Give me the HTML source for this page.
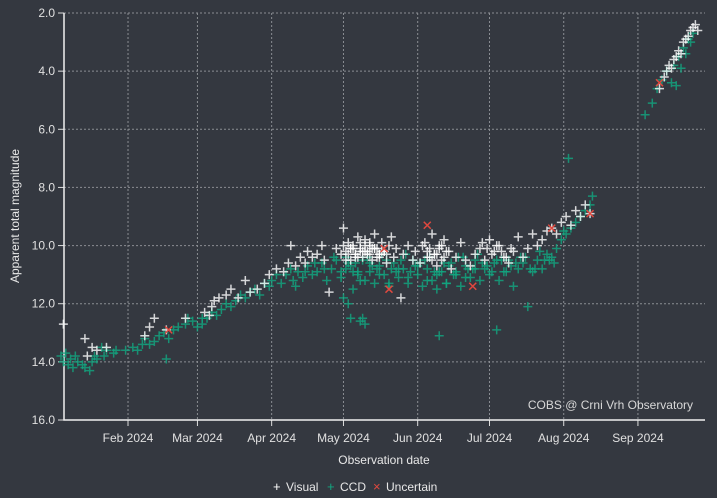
<!DOCTYPE html>
<html><head><meta charset="utf-8"><style>
html,body{margin:0;padding:0;background:#343840;}
svg{display:block;font-family:"Liberation Sans",sans-serif;}
</style></head><body>
<svg id="chart" width="717" height="498">
<rect width="717" height="498" fill="#343840"/>
<g id="grid"></g><g id="axes"></g><g id="marks"></g>
<text x="693" y="409" fill="#d8d8d8" font-size="12" text-anchor="end">COBS @ Crni Vrh Observatory</text>
<text x="384" y="464" fill="#e8e8e8" font-size="12" text-anchor="middle">Observation date</text>
<text transform="translate(19,216) rotate(-90)" fill="#e8e8e8" font-size="12" text-anchor="middle">Apparent total magnitude</text>
<g id="legend"></g>
</svg>
<script>
const yTicks=[2,4,6,8,10,12,14,16];
const xTickDays=[31,60,91,121,152,182,213,244];
const xTickLabels=["Feb 2024","Mar 2024","Apr 2024","May 2024","Jun 2024","Jul 2024","Aug 2024","Sep 2024"];
const ccdDays=[3,4,5,6,7,8,9,10,12,13,15,16,17,18,20,21,22,25,26,30,33,35,37,38,40,42,44,46,47,48,50,52,55,56,58,60,62,62,64,66,68,70,72,74,76,78,80,82,84,86,88,90,91,93,95,97,99,100,102,104,106,108,110,112,114,116,118,120,121,122,123,124,125,126,127,128,129,130,130,132,134,136,138,140,142,144,146,148,150,152,154,156,158,160,161,162,164,166,168,170,172,174,176,178,180,182,184,185,186,188,190,192,194,196,198,200,202,204,206,208,210,212,213,214,215,216,218,220,222,224,225,247,250,252,254,256,258,259,260,261,262,263,264,265,266,267,101,105,109,113,117,123,127,131,135,139,143,147,151,155,159,163,167,171,175,179,183,187,191,195,199,203,207,122,125,129,133,137,141,145,149,153,157,161,165,169,173,177,181,185,189,193,197,201,205,209,120,124,128,132,136,140,144,148,152,156,160,164,168,172,176,180];
const ccdMags=[13.8,14.0,13.7,14.1,13.9,14.2,13.8,14.0,14.1,14.2,14.3,14.0,13.8,13.9,13.5,13.8,13.6,13.7,13.6,13.6,13.5,13.6,13.4,13.2,13.4,13.3,13.1,13.0,13.9,13.2,12.9,12.8,12.7,12.5,12.6,12.8,12.5,12.7,12.5,12.3,12.4,12.2,12.0,12.1,11.9,11.7,11.8,11.6,11.5,11.7,11.3,11.4,11.2,11.0,11.3,11.0,10.8,11.2,10.9,11.1,10.7,11.0,10.9,10.6,11.2,10.8,10.5,10.9,11.8,10.8,12.0,12.5,11.5,10.6,11.0,12.6,12.5,12.7,11.2,10.9,11.3,10.7,11.0,11.4,10.6,11.1,10.8,11.3,10.5,11.0,11.4,10.8,11.2,11.5,13.1,10.9,11.3,10.6,11.0,11.4,10.7,11.1,10.5,11.2,10.8,11.0,10.6,12.9,11.2,10.9,10.5,11.4,10.8,10.6,12.1,10.9,10.5,10.8,10.3,10.4,10.1,9.8,9.5,9.6,7.0,9.4,9.2,9.0,8.8,8.6,8.3,5.5,5.1,4.6,4.3,4.0,4.4,3.8,4.5,3.5,3.9,3.2,3.4,2.9,3.0,2.7,11.4,10.9,10.6,10.8,10.4,10.6,10.9,10.4,10.8,10.5,10.9,10.3,10.7,10.5,10.9,10.6,11.0,10.4,10.8,10.6,10.9,10.5,10.7,10.4,10.8,10.2,10.5,10.4,10.9,10.5,10.7,10.3,10.8,10.5,10.9,10.6,10.4,10.9,10.7,10.4,10.8,10.3,10.7,10.5,10.9,10.6,10.4,10.8,10.5,10.6,11.1,10.7,11.2,10.6,11.0,11.3,10.8,11.1,10.7,11.2,11.0,11.3,10.9,11.1,10.8];
const visDays=[4,13,16,22,14,18,38,40,42,47,55,63,65,66,67,69,72,74,77,80,82,85,88,90,93,96,98,99,101,103,105,106,108,110,112,113,115,118,120,121,122,123,124,125,126,127,128,129,130,131,132,133,134,135,136,137,138,139,140,141,142,143,145,146,148,150,151,153,155,156,157,158,159,160,161,162,163,164,166,168,170,172,174,176,178,180,182,184,186,188,190,192,194,196,198,200,202,204,206,208,210,212,214,216,218,220,222,224,253,255,256,257,258,259,260,261,262,263,264,265,266,267,268,269,124,126,128,130,132,134,136,138,156,158,160,162,121,123,125,127,129,131,133,135,137,139,122,124,126,128,130,132,134,136,154,157,159,161,163,165,179,181,183,185,187,189,191];
const visMags=[12.7,13.2,13.5,13.5,13.8,13.6,13.1,12.8,12.5,12.9,12.5,12.3,12.4,12.1,11.9,11.8,11.7,11.5,11.8,11.2,11.6,11.5,11.3,11.0,10.8,10.9,10.6,10.0,10.7,10.4,10.6,10.2,10.4,10.3,10.0,10.5,11.6,10.1,10.3,9.4,10.2,9.9,10.5,10.0,10.3,9.7,10.1,10.4,9.8,10.2,10.0,10.5,9.6,10.1,10.3,9.9,10.2,10.6,10.0,9.7,10.4,10.1,11.8,10.3,10.0,10.5,10.2,10.6,9.9,10.4,10.1,9.6,10.3,10.7,10.0,10.5,9.8,10.2,10.8,10.4,9.9,10.5,10.7,10.3,10.1,10.5,9.8,10.2,10.0,10.4,10.6,10.2,9.7,10.4,10.1,9.6,10.0,9.8,9.5,9.4,9.6,9.2,9.0,9.3,8.8,9.0,8.6,8.9,4.6,4.2,4.0,3.8,3.9,3.6,3.5,3.3,3.4,3.0,2.9,2.8,2.6,2.5,2.4,2.6,10.1,10.4,10.2,10.0,10.3,10.1,10.4,10.2,10.2,10.5,10.3,10.0,10.0,10.3,10.1,10.4,10.2,10.3,10.1,10.4,10.2,10.3,10.5,10.1,10.3,9.9,10.2,9.9,10.1,10.3,10.0,10.4,10.3,10.1,10.4,10.2,9.9,10.1,10.3,10.0,10.2,10.4,10.1];
const uncDays=[48,156,175,208,224,253,140,138];
const uncMags=[12.9,9.3,11.4,9.4,8.9,4.4,11.5,10.1];

const L=64,R=705,T=13,B=420;
const xS=d=>53.8+d*2.394;
const yS=m=>T+(m-2)/14*(B-T);
const NS="http://www.w3.org/2000/svg";
function mk(p,tag,at){const e=document.createElementNS(NS,tag);for(const k in at)e.setAttribute(k,at[k]);p.appendChild(e);return e;}
const grid=document.getElementById('grid'),axes=document.getElementById('axes'),marks=document.getElementById('marks'),legend=document.getElementById('legend');
yTicks.forEach(v=>{const y=yS(v);
 const g=mk(grid,'line',{x1:L,x2:R,y1:y,y2:y,stroke:'#8a8d92','stroke-dasharray':'2,2','stroke-width':1});
 
 
 mk(axes,'line',{x1:L-6,x2:L,y1:y,y2:y,stroke:'#ddd'});
 const t=mk(axes,'text',{x:L-9,y:y+4,fill:'#e0e0e0','font-size':12,'text-anchor':'end'});t.textContent=v.toFixed(1);
 
 
});
xTickDays.forEach((d,i)=>{const x=xS(d);
 const g=mk(grid,'line',{x1:x,x2:x,y1:T,y2:B,stroke:'#8a8d92','stroke-dasharray':'2,2','stroke-width':1});
 
 
 mk(axes,'line',{x1:x,x2:x,y1:B,y2:B+6,stroke:'#ddd'});
 const t=mk(axes,'text',{x:x,y:B+22,fill:'#e0e0e0','font-size':12,'text-anchor':'middle'});t.textContent=xTickLabels[i];
 
 
});
const ax=mk(axes,'path',{d:`M${L},${T} V${B} H${R}`,fill:'none',stroke:'#f0f0f0','stroke-width':1.5});


function plus(x,y,c,name){const p=mk(marks,'path',{d:`M${x-4.5},${y}H${x+4.5}M${x},${y-4.5}V${y+4.5}`,stroke:c,'stroke-width':1.5,'stroke-opacity':0.8});
 
 }
ccdDays.forEach((d,i)=>plus(xS(d),yS(ccdMags[i]),'#12a881','ccd-point'));
visDays.forEach((d,i)=>plus(xS(d),yS(visMags[i]),'#ffffff','visual-point'));
uncDays.forEach((d,i)=>{const x=xS(d),y=yS(uncMags[i]);
 const p=mk(marks,'path',{d:`M${x-3.5},${y-3.5}L${x+3.5},${y+3.5}M${x-3.5},${y+3.5}L${x+3.5},${y-3.5}`,stroke:'#e0483e','stroke-width':1.5});
 
 });
const leg=[['+','Visual','#fff',273],['+','CCD','#12a881',327],['×','Uncertain','#e0483e',373]];
leg.forEach(l=>{const g=mk(legend,'g',{});
 
 
 const s=mk(g,'text',{x:l[3],y:491,fill:l[2],'font-size':13});s.textContent=l[0];
 const t=mk(g,'text',{x:l[3]+13,y:491,fill:'#e8e8e8','font-size':12});t.textContent=l[1];});
</script>
</body></html>
